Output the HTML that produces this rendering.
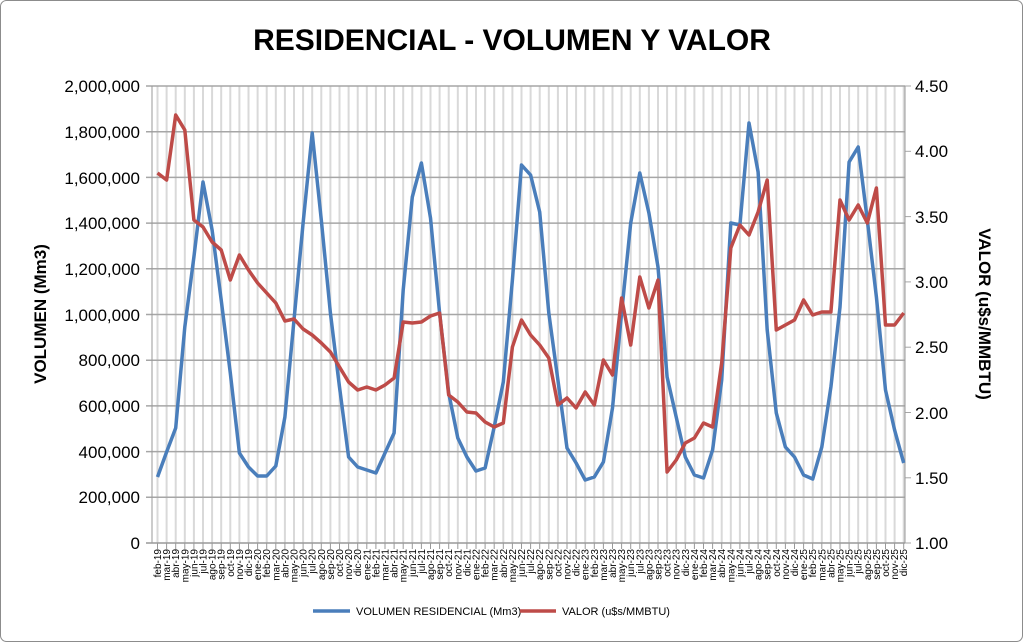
<!DOCTYPE html>
<html><head><meta charset="utf-8"><style>
body{margin:0;background:#fff;}
svg{display:block;font-family:"Liberation Sans",sans-serif;}
</style></head><body>
<svg width="1023" height="642" viewBox="0 0 1023 642" xmlns="http://www.w3.org/2000/svg">
<rect x="0.5" y="0.5" width="1022" height="641" rx="6" fill="#fff" stroke="#8c8c8c"/>
<text x="512" y="50" text-anchor="middle" font-size="30" font-weight="bold" fill="#000">RESIDENCIAL - VOLUMEN Y VALOR</text>
<g transform="translate(157.5,0) scale(9.1,1)" stroke="#d9d9d9" stroke-width="2">
<path vector-effect="non-scaling-stroke" d="M0,86V543M1,86V543M2,86V543M3,86V543M4,86V543M5,86V543M6,86V543M7,86V543M8,86V543M9,86V543M10,86V543M11,86V543M12,86V543M13,86V543M14,86V543M15,86V543M16,86V543M17,86V543M18,86V543M19,86V543M20,86V543M21,86V543M22,86V543M23,86V543M24,86V543M25,86V543M26,86V543M27,86V543M28,86V543M29,86V543M30,86V543M31,86V543M32,86V543M33,86V543M34,86V543M35,86V543M36,86V543M37,86V543M38,86V543M39,86V543M40,86V543M41,86V543M42,86V543M43,86V543M44,86V543M45,86V543M46,86V543M47,86V543M48,86V543M49,86V543M50,86V543M51,86V543M52,86V543M53,86V543M54,86V543M55,86V543M56,86V543M57,86V543M58,86V543M59,86V543M60,86V543M61,86V543M62,86V543M63,86V543M64,86V543M65,86V543M66,86V543M67,86V543M68,86V543M69,86V543M70,86V543M71,86V543M72,86V543M73,86V543M74,86V543M75,86V543M76,86V543M77,86V543M78,86V543M79,86V543M80,86V543M81,86V543M82,86V543"/>
<path vector-effect="non-scaling-stroke" stroke="#999" stroke-width="1" d="M0,543V549M1,543V549M2,543V549M3,543V549M4,543V549M5,543V549M6,543V549M7,543V549M8,543V549M9,543V549M10,543V549M11,543V549M12,543V549M13,543V549M14,543V549M15,543V549M16,543V549M17,543V549M18,543V549M19,543V549M20,543V549M21,543V549M22,543V549M23,543V549M24,543V549M25,543V549M26,543V549M27,543V549M28,543V549M29,543V549M30,543V549M31,543V549M32,543V549M33,543V549M34,543V549M35,543V549M36,543V549M37,543V549M38,543V549M39,543V549M40,543V549M41,543V549M42,543V549M43,543V549M44,543V549M45,543V549M46,543V549M47,543V549M48,543V549M49,543V549M50,543V549M51,543V549M52,543V549M53,543V549M54,543V549M55,543V549M56,543V549M57,543V549M58,543V549M59,543V549M60,543V549M61,543V549M62,543V549M63,543V549M64,543V549M65,543V549M66,543V549M67,543V549M68,543V549M69,543V549M70,543V549M71,543V549M72,543V549M73,543V549M74,543V549M75,543V549M76,543V549M77,543V549M78,543V549M79,543V549M80,543V549M81,543V549M82,543V549"/>
</g>
<g stroke="#a6a6a6" stroke-width="1.5">
<line x1="146" y1="86" x2="905" y2="86"/><line x1="146" y1="131.7" x2="905" y2="131.7"/><line x1="146" y1="177.4" x2="905" y2="177.4"/><line x1="146" y1="223.1" x2="905" y2="223.1"/><line x1="146" y1="268.8" x2="905" y2="268.8"/><line x1="146" y1="314.5" x2="905" y2="314.5"/><line x1="146" y1="360.2" x2="905" y2="360.2"/><line x1="146" y1="405.9" x2="905" y2="405.9"/><line x1="146" y1="451.6" x2="905" y2="451.6"/><line x1="146" y1="497.3" x2="905" y2="497.3"/>
</g>
<g stroke="#a6a6a6" stroke-width="1">
<line x1="905" y1="86" x2="911" y2="86"/><line x1="905" y1="151.3" x2="911" y2="151.3"/><line x1="905" y1="216.6" x2="911" y2="216.6"/><line x1="905" y1="281.9" x2="911" y2="281.9"/><line x1="905" y1="347.2" x2="911" y2="347.2"/><line x1="905" y1="412.5" x2="911" y2="412.5"/><line x1="905" y1="477.8" x2="911" y2="477.8"/><line x1="905" y1="543" x2="911" y2="543"/>
</g>
<line x1="152" y1="86" x2="152" y2="543" stroke="#999"/>
<line x1="905" y1="86" x2="905" y2="543" stroke="#999"/>
<line x1="146" y1="543" x2="905" y2="543" stroke="#999" stroke-width="1.5"/>
<g transform="translate(157.5,0) scale(9.1,1)" fill="none" stroke-linejoin="round">
<polyline vector-effect="non-scaling-stroke" stroke="#4a7ebb" stroke-width="3.5" points="0,477 1,452 2,428 3,327 4,257 5,182 6,230 7,300 8,373 9,453 10,467 11,476 12,476 13,466 14,417 15,320 16,223 17,133 18,220 19,313 20,387 21,457 22,467 23,470 24,473 25,453 26,433 27,290 28,197 29,163 30,218 31,313 32,393 33,438 34,457 35,471 36,468 37,427 38,382 39,280 40,165 41,175 42,212 43,313 44,380 45,448 46,463 47,480 48,477 49,462 50,408 51,313 52,223 53,173 54,213 55,267 56,377 57,417 58,457 59,475 60,478 61,450 62,380 63,223 64,225 65,123 66,172 67,330 68,413 69,447 70,457 71,475 72,479 73,447 74,387 75,307 76,162 77,147 78,220 79,297 80,390 81,430 82,463"/>
<polyline vector-effect="non-scaling-stroke" stroke="#be4b48" stroke-width="3.5" points="0,173 1,180 2,115 3,130 4,220 5,227 6,242 7,250 8,280 9,255 10,270 11,283 12,293 13,303 14,321 15,319 16,329 17,335 18,343 19,352 20,367 21,382 22,390 23,387 24,390 25,385 26,378 27,322 28,323 29,322 30,316 31,313 32,395 33,402 34,412 35,413 36,422 37,427 38,423 39,347 40,320 41,335 42,345 43,358 44,405 45,398 46,408 47,392 48,405 49,360 50,375 51,298 52,345 53,277 54,308 55,280 56,472 57,460 58,443 59,438 60,423 61,427 62,363 63,248 64,225 65,235 66,212 67,180 68,330 69,325 70,320 71,300 72,315 73,312 74,312 75,200 76,220 77,205 78,223 79,188 80,325 81,325 82,313"/>
</g>
<g font-size="17" fill="#000" text-anchor="end">
<text x="140" y="92">2,000,000</text><text x="140" y="138">1,800,000</text><text x="140" y="184">1,600,000</text><text x="140" y="229">1,400,000</text><text x="140" y="275">1,200,000</text><text x="140" y="321">1,000,000</text><text x="140" y="366">800,000</text><text x="140" y="412">600,000</text><text x="140" y="458">400,000</text><text x="140" y="503">200,000</text><text x="140" y="549">0</text>
</g>
<g font-size="17" fill="#000">
<text x="915" y="92">4.50</text><text x="915" y="157">4.00</text><text x="915" y="223">3.50</text><text x="915" y="288">3.00</text><text x="915" y="353">2.50</text><text x="915" y="419">2.00</text><text x="915" y="484">1.50</text><text x="915" y="549">1.00</text>
</g>
<text transform="translate(46,314) rotate(-90)" text-anchor="middle" font-size="17" font-weight="bold">VOLUMEN (Mm3)</text>
<text transform="translate(979,314) rotate(90)" text-anchor="middle" font-size="17" font-weight="bold">VALOR (u$s/MMBTU)</text>
<g font-size="10" fill="#000" text-anchor="end">
<text transform="translate(161,549) rotate(-90)">feb-19</text>
<text transform="translate(170.1,549) rotate(-90)">mar-19</text>
<text transform="translate(179.2,549) rotate(-90)">abr-19</text>
<text transform="translate(188.3,549) rotate(-90)">may-19</text>
<text transform="translate(197.4,549) rotate(-90)">jun-19</text>
<text transform="translate(206.5,549) rotate(-90)">jul-19</text>
<text transform="translate(215.6,549) rotate(-90)">ago-19</text>
<text transform="translate(224.7,549) rotate(-90)">sep-19</text>
<text transform="translate(233.8,549) rotate(-90)">oct-19</text>
<text transform="translate(242.9,549) rotate(-90)">nov-19</text>
<text transform="translate(252,549) rotate(-90)">dic-19</text>
<text transform="translate(261.1,549) rotate(-90)">ene-20</text>
<text transform="translate(270.2,549) rotate(-90)">feb-20</text>
<text transform="translate(279.3,549) rotate(-90)">mar-20</text>
<text transform="translate(288.4,549) rotate(-90)">abr-20</text>
<text transform="translate(297.5,549) rotate(-90)">may-20</text>
<text transform="translate(306.6,549) rotate(-90)">jun-20</text>
<text transform="translate(315.7,549) rotate(-90)">jul-20</text>
<text transform="translate(324.8,549) rotate(-90)">ago-20</text>
<text transform="translate(333.9,549) rotate(-90)">sep-20</text>
<text transform="translate(343,549) rotate(-90)">oct-20</text>
<text transform="translate(352.1,549) rotate(-90)">nov-20</text>
<text transform="translate(361.2,549) rotate(-90)">dic-20</text>
<text transform="translate(370.3,549) rotate(-90)">ene-21</text>
<text transform="translate(379.4,549) rotate(-90)">feb-21</text>
<text transform="translate(388.5,549) rotate(-90)">mar-21</text>
<text transform="translate(397.6,549) rotate(-90)">abr-21</text>
<text transform="translate(406.7,549) rotate(-90)">may-21</text>
<text transform="translate(415.8,549) rotate(-90)">jun-21</text>
<text transform="translate(424.9,549) rotate(-90)">jul-21</text>
<text transform="translate(434,549) rotate(-90)">ago-21</text>
<text transform="translate(443.1,549) rotate(-90)">sep-21</text>
<text transform="translate(452.2,549) rotate(-90)">oct-21</text>
<text transform="translate(461.3,549) rotate(-90)">nov-21</text>
<text transform="translate(470.4,549) rotate(-90)">dic-21</text>
<text transform="translate(479.5,549) rotate(-90)">ene-22</text>
<text transform="translate(488.6,549) rotate(-90)">feb-22</text>
<text transform="translate(497.7,549) rotate(-90)">mar-22</text>
<text transform="translate(506.8,549) rotate(-90)">abr-22</text>
<text transform="translate(515.9,549) rotate(-90)">may-22</text>
<text transform="translate(525,549) rotate(-90)">jun-22</text>
<text transform="translate(534.1,549) rotate(-90)">jul-22</text>
<text transform="translate(543.2,549) rotate(-90)">ago-22</text>
<text transform="translate(552.3,549) rotate(-90)">sep-22</text>
<text transform="translate(561.4,549) rotate(-90)">oct-22</text>
<text transform="translate(570.5,549) rotate(-90)">nov-22</text>
<text transform="translate(579.6,549) rotate(-90)">dic-22</text>
<text transform="translate(588.7,549) rotate(-90)">ene-23</text>
<text transform="translate(597.8,549) rotate(-90)">feb-23</text>
<text transform="translate(606.9,549) rotate(-90)">mar-23</text>
<text transform="translate(616,549) rotate(-90)">abr-23</text>
<text transform="translate(625.1,549) rotate(-90)">may-23</text>
<text transform="translate(634.2,549) rotate(-90)">jun-23</text>
<text transform="translate(643.3,549) rotate(-90)">jul-23</text>
<text transform="translate(652.4,549) rotate(-90)">ago-23</text>
<text transform="translate(661.5,549) rotate(-90)">sep-23</text>
<text transform="translate(670.6,549) rotate(-90)">oct-23</text>
<text transform="translate(679.7,549) rotate(-90)">nov-23</text>
<text transform="translate(688.8,549) rotate(-90)">dic-23</text>
<text transform="translate(697.9,549) rotate(-90)">ene-24</text>
<text transform="translate(707,549) rotate(-90)">feb-24</text>
<text transform="translate(716.1,549) rotate(-90)">mar-24</text>
<text transform="translate(725.2,549) rotate(-90)">abr-24</text>
<text transform="translate(734.3,549) rotate(-90)">may-24</text>
<text transform="translate(743.4,549) rotate(-90)">jun-24</text>
<text transform="translate(752.5,549) rotate(-90)">jul-24</text>
<text transform="translate(761.6,549) rotate(-90)">ago-24</text>
<text transform="translate(770.7,549) rotate(-90)">sep-24</text>
<text transform="translate(779.8,549) rotate(-90)">oct-24</text>
<text transform="translate(788.9,549) rotate(-90)">nov-24</text>
<text transform="translate(798,549) rotate(-90)">dic-24</text>
<text transform="translate(807.1,549) rotate(-90)">ene-25</text>
<text transform="translate(816.2,549) rotate(-90)">feb-25</text>
<text transform="translate(825.3,549) rotate(-90)">mar-25</text>
<text transform="translate(834.4,549) rotate(-90)">abr-25</text>
<text transform="translate(843.5,549) rotate(-90)">may-25</text>
<text transform="translate(852.6,549) rotate(-90)">jun-25</text>
<text transform="translate(861.7,549) rotate(-90)">jul-25</text>
<text transform="translate(870.8,549) rotate(-90)">ago-25</text>
<text transform="translate(879.9,549) rotate(-90)">sep-25</text>
<text transform="translate(889,549) rotate(-90)">oct-25</text>
<text transform="translate(898.1,549) rotate(-90)">nov-25</text>
<text transform="translate(907.2,549) rotate(-90)">dic-25</text>
</g>
<line x1="313" y1="611" x2="350" y2="611" stroke="#4a7ebb" stroke-width="3.5"/>
<text x="356" y="615" font-size="11">VOLUMEN RESIDENCIAL (Mm3)</text>
<line x1="520" y1="611" x2="556" y2="611" stroke="#be4b48" stroke-width="3.5"/>
<text x="562" y="615" font-size="11">VALOR (u$s/MMBTU)</text>
</svg>
</body></html>
